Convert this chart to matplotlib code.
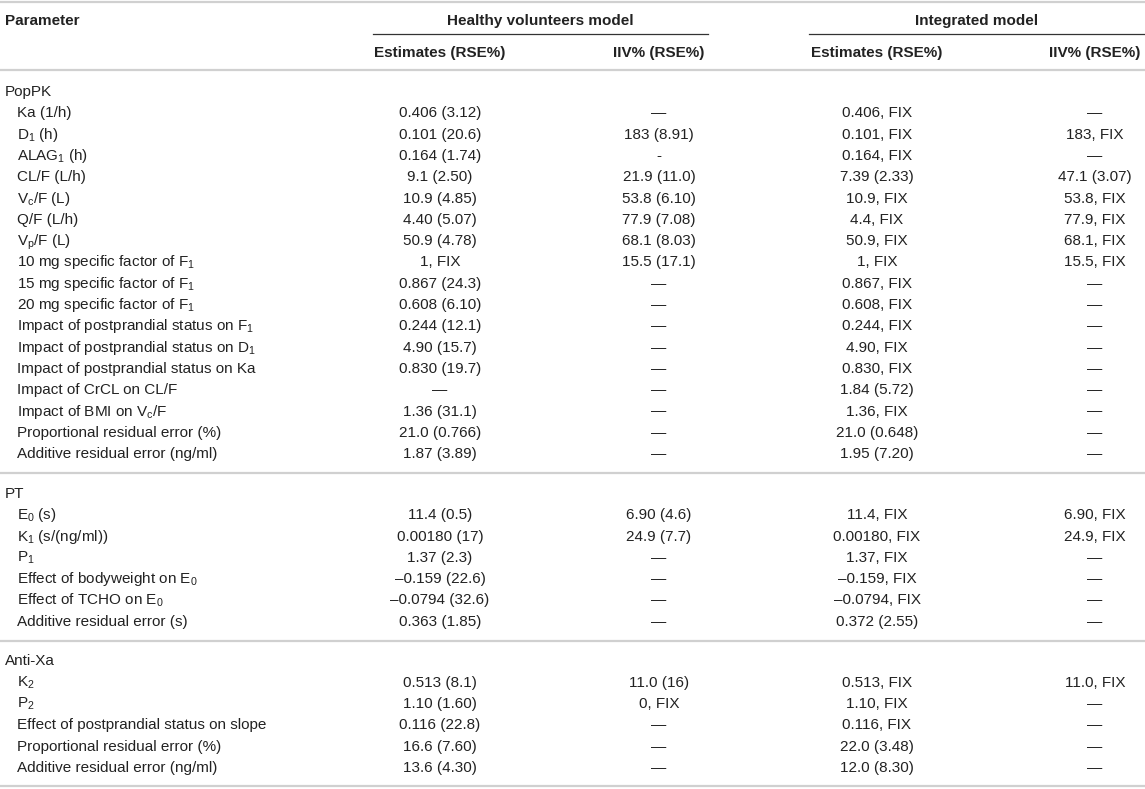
import matplotlib
matplotlib.use("Agg")
import matplotlib.pyplot as plt

plt.rcParams['font.family'] = ['Liberation Sans', 'DejaVu Sans']
plt.rcParams['mathtext.fontset'] = 'custom'
plt.rcParams['mathtext.rm'] = 'Liberation Sans'
plt.rcParams['mathtext.it'] = 'Liberation Sans:italic'
plt.rcParams['mathtext.default'] = 'regular'

# ---- table data ----
group_titles = ["Healthy volunteers model", "Integrated model"]
sub_headers = ["Estimates (RSE%)", "IIV% (RSE%)", "Estimates (RSE%)", "IIV% (RSE%)"]
sections = ["PopPK", "PT", "Anti-Xa"]

poppk_params = [
    "Ka (1/h)", "D$_1$ (h)", "ALAG$_1$ (h)", "CL/F (L/h)", "V$_c$/F (L)",
    "Q/F (L/h)", "V$_p$/F (L)", "10 mg specific factor of F$_1$",
    "15 mg specific factor of F$_1$", "20 mg specific factor of F$_1$",
    "Impact of postprandial status on F$_1$", "Impact of postprandial status on D$_1$",
    "Impact of postprandial status on Ka", "Impact of CrCL on CL/F",
    "Impact of BMI on V$_c$/F", "Proportional residual error (%)",
    "Additive residual error (ng/ml)",
]
poppk_hv_est = ["0.406 (3.12)", "0.101 (20.6)", "0.164 (1.74)", "9.1 (2.50)", "10.9 (4.85)",
                "4.40 (5.07)", "50.9 (4.78)", "1, FIX", "0.867 (24.3)", "0.608 (6.10)",
                "0.244 (12.1)", "4.90 (15.7)", "0.830 (19.7)", "—", "1.36 (31.1)",
                "21.0 (0.766)", "1.87 (3.89)"]
poppk_hv_iiv = ["—", "183 (8.91)", "-", "21.9 (11.0)", "53.8 (6.10)", "77.9 (7.08)",
                "68.1 (8.03)", "15.5 (17.1)", "—", "—", "—", "—", "—", "—", "—", "—", "—"]
poppk_int_est = ["0.406, FIX", "0.101, FIX", "0.164, FIX", "7.39 (2.33)", "10.9, FIX",
                 "4.4, FIX", "50.9, FIX", "1, FIX", "0.867, FIX", "0.608, FIX",
                 "0.244, FIX", "4.90, FIX", "0.830, FIX", "1.84 (5.72)", "1.36, FIX",
                 "21.0 (0.648)", "1.95 (7.20)"]
poppk_int_iiv = ["—", "183, FIX", "—", "47.1 (3.07)", "53.8, FIX", "77.9, FIX",
                 "68.1, FIX", "15.5, FIX", "—", "—", "—", "—", "—", "—", "—", "—", "—"]

pt_params = ["E$_0$ (s)", "K$_1$ (s/(ng/ml))", "P$_1$", "Effect of bodyweight on E$_0$",
             "Effect of TCHO on E$_0$", "Additive residual error (s)"]
pt_hv_est = ["11.4 (0.5)", "0.00180 (17)", "1.37 (2.3)", "–0.159 (22.6)",
             "–0.0794 (32.6)", "0.363 (1.85)"]
pt_hv_iiv = ["6.90 (4.6)", "24.9 (7.7)", "—", "—", "—", "—"]
pt_int_est = ["11.4, FIX", "0.00180, FIX", "1.37, FIX", "–0.159, FIX",
              "–0.0794, FIX", "0.372 (2.55)"]
pt_int_iiv = ["6.90, FIX", "24.9, FIX", "—", "—", "—", "—"]

axa_params = ["K$_2$", "P$_2$", "Effect of postprandial status on slope",
              "Proportional residual error (%)", "Additive residual error (ng/ml)"]
axa_hv_est = ["0.513 (8.1)", "1.10 (1.60)", "0.116 (22.8)", "16.6 (7.60)", "13.6 (4.30)"]
axa_hv_iiv = ["11.0 (16)", "0, FIX", "—", "—", "—"]
axa_int_est = ["0.513, FIX", "1.10, FIX", "0.116, FIX", "22.0 (3.48)", "12.0 (8.30)"]
axa_int_iiv = ["11.0, FIX", "—", "—", "—", "—"]

blocks = [
    (sections[0], poppk_params, [poppk_hv_est, poppk_hv_iiv, poppk_int_est, poppk_int_iiv]),
    (sections[1], pt_params, [pt_hv_est, pt_hv_iiv, pt_int_est, pt_int_iiv]),
    (sections[2], axa_params, [axa_hv_est, axa_hv_iiv, axa_int_est, axa_int_iiv]),
]

# ---- layout (pixel units) ----
W, H = 1145, 789
col_x = [440, 659, 877, 1095]
group_spans = [(373, 708), (809, 1145)]
row_h = 21.3
sec_gap = 18.5
first_row = 91
text_col = '#222222'
rule_col = '#d0d0d0'
fs = 11

fig = plt.figure(figsize=(W / 100, H / 100), dpi=100)
ax = fig.add_axes([0, 0, 1, 1])
ax.set_xlim(0, W)
ax.set_ylim(H, 0)
ax.axis('off')


def put(x, y, s, ha='center', bold=False):
    ax.text(x, y + 5, s, ha=ha, va='baseline', fontsize=fs, color=text_col,
            fontweight='bold' if bold else 'normal')


# header
ax.axhline(1.5, color=rule_col, lw=1.6)
put(5, 20, "Parameter", ha='left', bold=True)
for title, (x0, x1) in zip(group_titles, group_spans):
    put((x0 + x1) / 2, 20, title, bold=True)
    ax.plot([x0, x1], [34, 34], color='#333333', lw=0.9)
for x, s in zip(col_x, sub_headers):
    put(x, 52, s, bold=True)
ax.axhline(69.5, color=rule_col, lw=1.6)

# body
y = first_row
for b, (name, params, cols) in enumerate(blocks):
    if b > 0:
        ax.axhline(y - row_h + (row_h + sec_gap) / 2, color=rule_col, lw=1.6)
        y += sec_gap
    put(5, y, name, ha='left')
    y += row_h
    for i, p in enumerate(params):
        put(17, y, p, ha='left')
        for x, col in zip(col_x, cols):
            put(x, y, col[i])
        y += row_h
ax.axhline(y - row_h + 19, color=rule_col, lw=1.6)

fig.savefig("out.png", dpi=100, facecolor='white')
